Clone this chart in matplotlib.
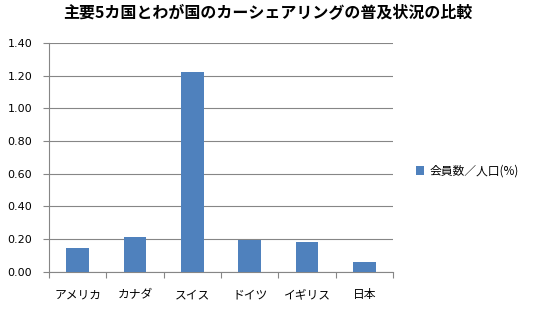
import matplotlib.pyplot as plt
import numpy as np

plt.rcParams['font.family'] = ['Noto Sans CJK JP', 'DejaVu Sans']

# data
countries = ['アメリカ', 'カナダ', 'スイス', 'ドイツ', 'イギリス', '日本']
ratio = [0.145, 0.21, 1.22, 0.195, 0.18, 0.058]
series_name = '会員数／人口(%)'
yticks = [0.0, 0.2, 0.4, 0.6, 0.8, 1.0, 1.2, 1.4]

fig = plt.figure(figsize=(5.36, 3.12), dpi=100)
ax = fig.add_axes([49 / 536, 1 - 271.5 / 312, 344 / 536, 228.5 / 312])

x = np.arange(len(countries))
ax.bar(x, ratio, width=0.4, color='#4f81bd', label=series_name, zorder=3)

ax.set_xlim(-0.5, len(countries) - 0.5)
ax.set_ylim(0, 1.4)
ax.set_yticks(yticks)
ax.set_yticklabels(['%.2f' % v for v in yticks], fontsize=8, family='DejaVu Sans')
ax.set_xticks(np.arange(len(countries) + 1) - 0.5, minor=False)
ax.set_xticklabels([])
ax.set_xticks(x, minor=True)
ax.set_xticklabels(countries, minor=True, fontsize=8.5)
ax.tick_params(axis='x', which='minor', length=0, pad=12)
ax.tick_params(axis='x', which='major', length=4, color='#868686')
ax.tick_params(axis='y', length=4, color='#868686', pad=8)

ax.grid(axis='y', color='#868686', linewidth=0.8, zorder=0)
for s in ['top', 'right']:
    ax.spines[s].set_visible(False)
for s in ['left', 'bottom']:
    ax.spines[s].set_color('#868686')

fig.suptitle('主要5カ国とわが国のカーシェアリングの普及状況の比較',
             fontsize=11.5, fontweight='bold', x=0.5, y=1 - 4 / 312, va='top')

fig.legend(loc='center left', bbox_to_anchor=(405 / 536, 1 - 171 / 312),
           frameon=False, fontsize=8.5, handlelength=0.7, handleheight=0.7,
           handletextpad=0.5)

fig.savefig('out.png', dpi=100)
